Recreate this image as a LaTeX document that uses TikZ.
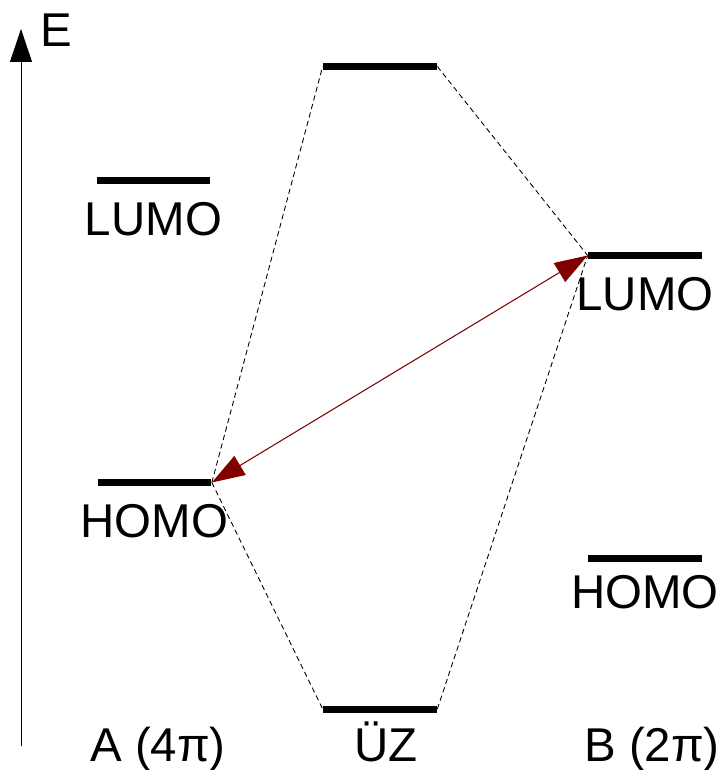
\documentclass[tikz,border=0pt]{standalone}
\usepackage{fontspec}
\setmainfont{Liberation Sans}
\usepackage{tikz}
\usetikzlibrary{positioning,arrows.meta}
\usepackage{xcolor}
\definecolor{darkred}{RGB}{128,0,0}
\begin{document}
\begin{tikzpicture}[
  x=0.02cm, y=-0.02cm,
  level/.style={rectangle,fill=black,inner sep=0pt,minimum width=2.28cm,minimum height=0.14cm},
  lbl/.style={inner sep=0pt,font=\fontsize{27}{31}\selectfont,text height=19.3pt,text depth=0pt},
  corr/.style={draw=black,densely dashed,line width=0.5pt},
  xfer/.style={draw=darkred,line width=0.6pt,{Triangle[length=0.66cm,width=0.44cm]}-{Triangle[length=0.66cm,width=0.44cm]}},
  axis/.style={draw=black,line width=0.5pt,-{Triangle[length=0.66cm,width=0.44cm]}}
]
\useasboundingbox (0,0) rectangle (720,770);
\coordinate (axb) at (21,746);
\coordinate (axt) at (21,29);
\draw[axis] (axb) -- (axt);
\node[lbl] (E) at (56,30) {E};
\node[level] (alumo) at (153.5,180.5) {};
\node[level] (ahomo) at (154.5,482.5) {};
\node[level] (mtop) at (380,66.5) {};
\node[level] (muz) at (380,709) {};
\node[level] (blumo) at (645,255.5) {};
\node[level] (bhomo) at (645,558) {};
\node[lbl,below=0.34cm of alumo] (alumot) {LUMO};
\node[lbl,below=0.34cm of ahomo] (ahomot) {HOMO};
\node[lbl,below=0.34cm of blumo] (blumot) {LUMO};
\node[lbl,below=0.25cm of bhomo] (bhomot) {HOMO};
\node[lbl] (atext) at (158,745) {A (4π)};
\node[lbl] (uztext) at (386,745) {ÜZ};
\node[lbl] (btext) at (652,745) {B (2π)};
\draw[corr] (ahomo.east) -- (mtop.west);
\draw[corr] (mtop.east) -- (blumo.west);
\draw[corr] (ahomo.east) -- (muz.west);
\draw[corr] (muz.east) -- (blumo.west);
\draw[xfer] (ahomo.east) -- (blumo.west);
\end{tikzpicture}
\end{document}
